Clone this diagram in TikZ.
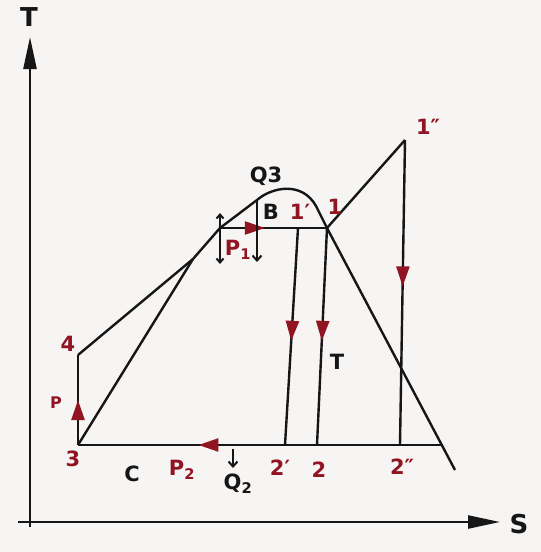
\documentclass[tikz,border=0pt]{standalone}
\usepackage{fontspec}
\setmainfont{DejaVu Sans}
\usetikzlibrary{arrows.meta,decorations.markings}
\definecolor{ink}{RGB}{22,22,22}
\definecolor{redink}{RGB}{145,20,35}
\definecolor{paper}{RGB}{247,245,243}

\begin{document}
\begin{tikzpicture}[x=1pt, y=-1pt,
  every node/.style={font=\fontsize{21}{24}\selectfont\bfseries, inner sep=1pt},
  curve/.style={draw=ink, line width=2.4pt, line join=round},
  lbl/.style={text=redink},
  blk/.style={text=ink},
  midarr/.style={postaction={decorate, decoration={markings,
      mark=at position #1 with {\arrow{Triangle[length=20pt,width=13pt,color=redink]}}}}},
  axis/.style={draw=ink, line width=2.4pt, -{Triangle[length=32pt,width=13pt]}},
  tick/.style={draw=ink, line width=2pt, -{Straight Barb[length=5pt,width=9pt]}}
]
% paper and page size
\fill[paper] (0,0) rectangle (541,552);
\useasboundingbox (0,0) rectangle (541,552);
% axes
\coordinate (ax0) at (30,527);
\coordinate (axT) at (30,37);
\coordinate (ax1) at (18,522);
\coordinate (axS) at (500,522);
\draw[axis] (ax0) -- (axT);
\draw[axis] (ax1) -- (axS);
\node[blk, font=\fontsize{26}{30}\selectfont\bfseries] (tlab) at (29,17) {T};
\node[blk, font=\fontsize{26}{30}\selectfont\bfseries] (slab) at (519,524) {S};
% state points
\coordinate (o3)   at (78,445);
\coordinate (o4)   at (78,355);
\coordinate (mg)   at (193,259);
\coordinate (sa)   at (220,228);
\coordinate (dl)   at (257,200);
\coordinate (dr)   at (316,206);
\coordinate (o1)   at (327,228);
\coordinate (de)   at (455,470);
\coordinate (o1p)  at (298,228);
\coordinate (o1pp) at (405,140);
\coordinate (o2p)  at (285,445);
\coordinate (o2)   at (317,445);
\coordinate (o2pp) at (400,445);
\coordinate (bx)   at (443,445);
% saturation dome
\draw[curve] (o3) -- (mg) -- (sa) -- (dl) .. controls (272,187) and (302,181) .. (dr) -- (o1) -- (de);
% cycle lines
\draw[curve] (o4) -- (mg);
\draw[curve, midarr=0.5] (o3) -- (o4);
\draw[curve, midarr=0.42] (sa) -- (o1);
\draw[curve] (o1) -- (o1pp);
\draw[curve, midarr=0.52] (o1p) -- (o2p);
\draw[curve, midarr=0.52] (o1) -- (o2);
\draw[curve, midarr=0.48] (o1pp) -- (o2pp);
\draw[curve, midarr=0.67] (bx) -- (o3);
% small arrows
\coordinate (bq)  at (257,262);
\coordinate (pt)  at (220,213);
\coordinate (pb)  at (220,264);
\coordinate (q2a) at (233,449);
\coordinate (q2b) at (233,468);
\draw[tick] (dl) -- (bq);
\draw[tick, {Straight Barb[length=4pt,width=7pt]}-{Straight Barb[length=4pt,width=7pt]}] (pt) -- (pb);
\draw[tick] (q2a) -- (q2b);
% labels
\node[lbl] (l3)   at (73,459)  {3};
\node[lbl] (l4)   at (68,344)  {4};
\node[lbl, font=\fontsize{16}{18}\selectfont\bfseries] (lp) at (56,403) {P};
\node[blk] (lq3)  at (266,176) {Q3};
\node[blk] (lb)   at (271,212) {B};
\node[lbl] (l1p)  at (300,212) {1′};
\node[lbl] (l1)   at (335,207) {1};
\node[lbl] (lp1)  at (238,250) {P\textsubscript{1}};
\node[blk] (lt)   at (337,362) {T};
\node[lbl] (l1pp) at (428,127) {1″};
\node[blk] (lc)   at (132,474) {C};
\node[lbl] (lp2)  at (182,470) {P\textsubscript{2}};
\node[blk] (lq2)  at (238,484) {Q\textsubscript{2}};
\node[lbl] (l2p)  at (280,468) {2′};
\node[lbl] (l2)   at (319,470) {2};
\node[lbl] (l2pp) at (402,467) {2″};
\end{tikzpicture}
\end{document}
